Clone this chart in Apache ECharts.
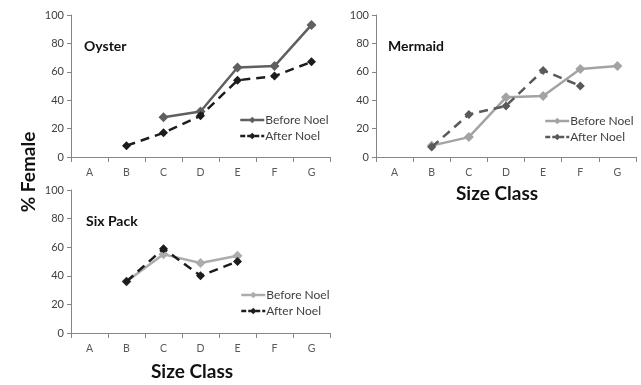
<!DOCTYPE html>
<html>
<head>
<meta charset="utf-8">
<script src="https://cdn.jsdelivr.net/npm/echarts@6/dist/echarts.min.js"></script>
<style>
  html, body { margin: 0; padding: 0; background: #fff; }
  #main { width: 641px; height: 385px; }
</style>
</head>
<body>
<div id="main"></div>
<script>
"use strict"

// 数据
const categories = ["A", "B", "C", "D", "E", "F", "G"];
const oysterBefore = [null, null, 28, 32, 63, 64, 93];
const oysterAfter = [null, 8, 17, 29, 54, 57, 67];
const mermaidBefore = [null, 8, 14, 42, 43, 62, 64];
const mermaidAfter = [null, 7, 30, 36, 61, 50, null];
const sixBefore = [null, 36, 55, 49, 54, null, null];
const sixAfter = [null, 36, 59, 40, 50, null, null];
const yMin = 0, yMax = 100, yStep = 20;

const FONT = "Lato, 'Open Sans', sans-serif";

// 三个面板的网格位置
const grids = [
    { left: 71, top: 15, width: 259, height: 142 },
    { left: 376, top: 15, width: 260, height: 142 },
    { left: 71, top: 190, width: 259, height: 143 }
];

function xAxisFor(i) {
    return {
        type: "category",
        gridIndex: i,
        data: categories,
        boundaryGap: true,
        axisLine: { lineStyle: { color: "#868686", width: 1 } },
        axisTick: { show: true, length: 5, lineStyle: { color: "#868686" } },
        axisLabel: { color: "#595959", fontSize: 10.5, fontFamily: FONT, margin: 10 },
        splitLine: { show: false }
    };
}

function yAxisFor(i) {
    return {
        type: "value",
        gridIndex: i,
        min: yMin,
        max: yMax,
        interval: yStep,
        axisLine: { show: true, lineStyle: { color: "#868686", width: 1 } },
        axisTick: { show: true, length: 4, lineStyle: { color: "#868686" } },
        axisLabel: { color: "#404040", fontSize: 11, fontFamily: FONT, margin: 7 },
        splitLine: { show: false }
    };
}

function lineSeries(name, data, i, color, dashed, size) {
    return {
        name: name,
        type: "line",
        xAxisIndex: i,
        yAxisIndex: i,
        data: data,
        symbol: "diamond",
        symbolSize: size,
        showSymbol: true,
        connectNulls: false,
        lineStyle: { color: color, width: 2.5, type: dashed ? [9, 6] : "solid" },
        itemStyle: { color: color },
        emphasis: { disabled: true },
        z: dashed ? 3 : 2
    };
}

function legendFor(left, top, beforeColor, afterColor) {
    return {
        left: left,
        top: top,
        orient: "vertical",
        itemWidth: 24,
        itemHeight: 8,
        itemGap: 4,
        selectedMode: false,
        textStyle: { color: "#404040", fontSize: 12, fontFamily: FONT, padding: [0, 0, 0, -4] },
        data: [
            { name: "Before Noel", itemStyle: { color: beforeColor }, lineStyle: { color: beforeColor, type: "solid", width: 2.5 } },
            { name: "After Noel", itemStyle: { color: afterColor }, lineStyle: { color: afterColor, type: [5, 2], width: 2.5 } }
        ]
    };
}

const titleStyle = { color: "#111", fontSize: 14, fontWeight: "bold", fontFamily: FONT };

const myChart = echarts.init(document.getElementById("main"), null, { renderer: "canvas" });

const option = {
    backgroundColor: "#fff",
    animation: false,
    title: [
        { text: "Oyster", left: 79, top: 34, textStyle: titleStyle },
        { text: "Mermaid", left: 383, top: 34, textStyle: titleStyle },
        { text: "Six Pack", left: 81, top: 209, textStyle: titleStyle }
    ],
    legend: [
        legendFor(234, 109, "#5f5f5f", "#1c1c1c"),
        legendFor(539, 110, "#a3a3a3", "#5a5a5a"),
        legendFor(235, 284, "#acacac", "#1c1c1c")
    ],
    grid: grids,
    xAxis: [xAxisFor(0), xAxisFor(1), xAxisFor(2)],
    yAxis: [yAxisFor(0), yAxisFor(1), yAxisFor(2)],
    series: [
        lineSeries("Before Noel", oysterBefore, 0, "#5f5f5f", false, 10),
        lineSeries("After Noel", oysterAfter, 0, "#1c1c1c", true, 9),
        lineSeries("Before Noel", mermaidBefore, 1, "#a3a3a3", false, 10),
        lineSeries("After Noel", mermaidAfter, 1, "#5a5a5a", true, 9),
        lineSeries("Before Noel", sixBefore, 2, "#acacac", false, 10),
        lineSeries("After Noel", sixAfter, 2, "#1c1c1c", true, 9)
    ],
    graphic: [
        {
            type: "text",
            x: 29, y: 172,
            rotation: Math.PI / 2,
            style: {
                text: "% Female",
                fill: "#111",
                font: "bold 19px " + FONT,
                textAlign: "center",
                textVerticalAlign: "middle"
            }
        },
        {
            type: "text",
            x: 497, y: 194,
            style: {
                text: "Size Class",
                fill: "#111",
                font: "bold 19px " + FONT,
                textAlign: "center",
                textVerticalAlign: "middle"
            }
        },
        {
            type: "text",
            x: 192, y: 372,
            style: {
                text: "Size Class",
                fill: "#111",
                font: "bold 19px " + FONT,
                textAlign: "center",
                textVerticalAlign: "middle"
            }
        }
    ]
};

option && myChart.setOption(option);
</script>
</body>
</html>
